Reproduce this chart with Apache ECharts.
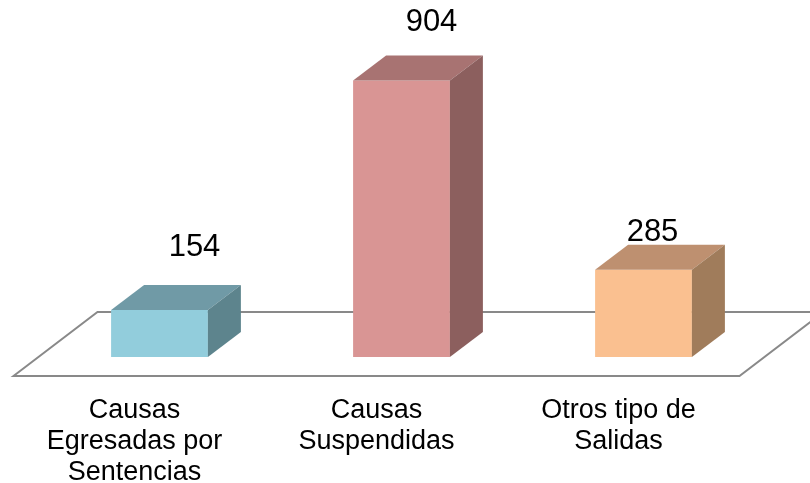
<!DOCTYPE html>
<html>
<head>
<meta charset="utf-8">
<script src="https://cdn.jsdelivr.net/npm/echarts@6/dist/echarts.min.js"></script>
<style>html,body{margin:0;padding:0;background:#fff}#c{width:810px;height:483px}</style>
</head>
<body>
<div id="c"></div>
<script>
const categories = ['Causas\nEgresadas por\nSentencias', 'Causas\nSuspendidas', 'Otros tipo de\nSalidas'];
const values = [154, 904, 285];
const frontColors = ['#92CDDC', '#D99594', '#FAC090'];
const topColors = ['#709AA6', '#A87372', '#BE9070'];
const sideColors = ['#5D848D', '#8C5F5E', '#A07C5B'];
const labelNudge = [[35, -37], [30, -33], [9, -12]];

const FONT = "'Liberation Sans', Arial, sans-serif";
const DEPTH = [33, -25];          // bar depth offset
const FLOOR_FRONT = [-25, 19];    // floor front edge relative to bar front plane
const FLOOR_BACK = [59, -45];     // floor back edge relative to bar front plane

const chart = echarts.init(document.getElementById('c'));
chart.setOption({
  animation: false,
  backgroundColor: '#ffffff',
  grid: { left: 38.5, top: 51, width: 726, height: 306, containLabel: false, outerBoundsMode: 'none' },
  xAxis: {
    type: 'category',
    data: categories,
    axisLine: { show: false },
    axisTick: { show: false },
    axisLabel: {
      interval: 0,
      margin: 38,
      fontFamily: FONT,
      fontSize: 27,
      lineHeight: 31,
      color: '#000',
      align: 'center',
      padding: [0, 50, 0, 0]
    }
  },
  yAxis: { type: 'value', min: 0, max: 1000, show: false, splitLine: { show: false } },
  series: [
    {
      type: 'custom',
      z: 1,
      silent: true,
      data: [[0, 0]],
      encode: { x: 0, y: 1 },
      renderItem: function (params, api) {
        const cs = params.coordSys;
        const base = api.coord([0, 0])[1];
        const l = cs.x, r = cs.x + cs.width;
        return {
          type: 'polygon',
          shape: {
            points: [
              [l + FLOOR_FRONT[0], base + FLOOR_FRONT[1]],
              [l + FLOOR_BACK[0], base + FLOOR_BACK[1]],
              [r + FLOOR_BACK[0], base + FLOOR_BACK[1]],
              [r + FLOOR_FRONT[0], base + FLOOR_FRONT[1]]
            ]
          },
          style: { fill: '#ffffff', stroke: '#898989', lineWidth: 2 }
        };
      }
    },
    {
      type: 'custom',
      z: 2,
      data: values.map((v, i) => [i, v]),
      encode: { x: 0, y: 1 },
      renderItem: function (params, api) {
        const i = params.dataIndex;
        const idx = api.value(0), v = api.value(1);
        const b = api.coord([idx, 0]);
        const t = api.coord([idx, v]);
        const bw = api.size([1, 0])[0] * 0.4;
        const l = b[0] - bw / 2, r = b[0] + bw / 2;
        const by = b[1], ty = t[1];
        const dx = DEPTH[0], dy = DEPTH[1];
        return {
          type: 'group',
          children: [
            { type: 'rect', shape: { x: l, y: ty, width: bw, height: by - ty }, style: { fill: frontColors[i] } },
            { type: 'polygon', shape: { points: [[l, ty], [l + dx, ty + dy], [r + dx, ty + dy], [r, ty]] }, style: { fill: topColors[i] } },
            { type: 'polygon', shape: { points: [[r, ty], [r + dx, ty + dy], [r + dx, by + dy], [r, by]] }, style: { fill: sideColors[i] } },
            {
              type: 'text',
              z2: 10,
              style: {
                text: String(v),
                x: b[0] + labelNudge[i][0],
                y: ty + dy + labelNudge[i][1],
                align: 'center',
                verticalAlign: 'middle',
                font: '31px ' + FONT,
                fill: '#000'
              }
            }
          ]
        };
      }
    }
  ]
});
</script>
</body>
</html>
